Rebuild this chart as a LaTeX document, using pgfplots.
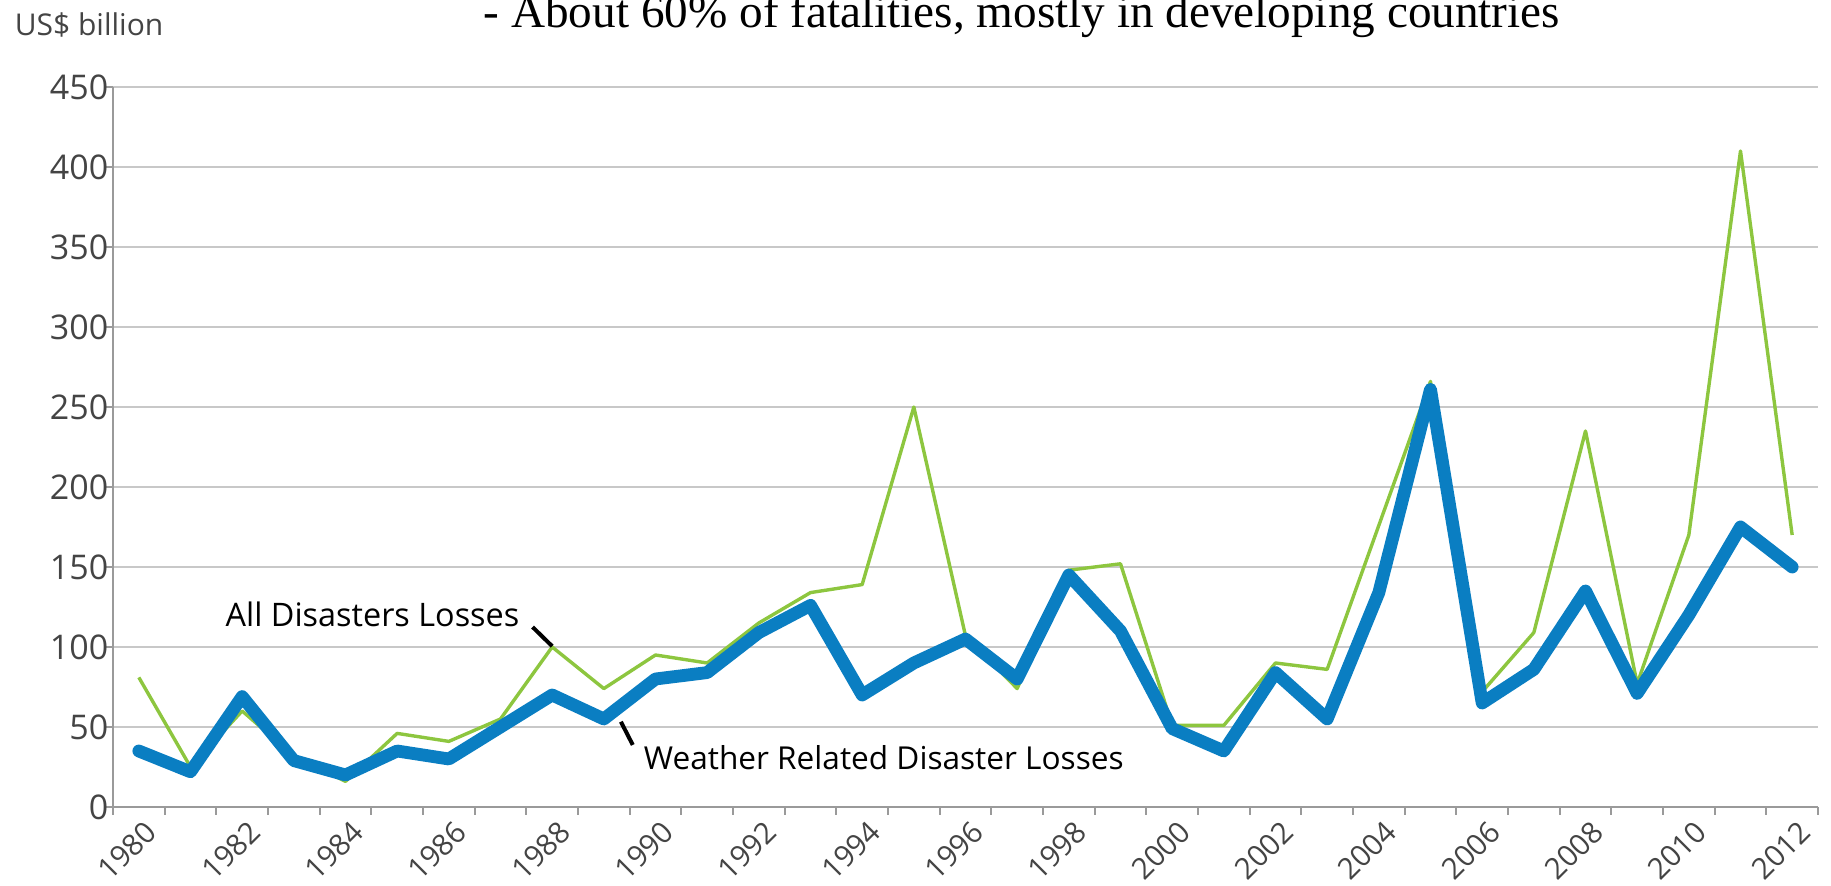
\documentclass[border=0pt]{standalone}
\usepackage{pgfplots}
\pgfplotsset{compat=1.18}
\usepackage{fontspec}
\setmainfont{Open Sans}
\newfontfamily\timesfont{Liberation Serif}

\definecolor{weatherblue}{HTML}{0A7EC2}
\definecolor{allgreen}{HTML}{8DC63F}
\definecolor{gridgray}{HTML}{C8C8C8}
\definecolor{axisgray}{HTML}{9A9A9A}
\definecolor{labelgray}{HTML}{444444}

% all disasters losses, US$ billion
\pgfplotstableread{
year value
1980 81
1981 25
1982 60
1983 32
1984 16
1985 46
1986 41
1987 55
1988 100
1989 74
1990 95
1991 90
1992 115
1993 134
1994 139
1995 250
1996 107
1997 74
1998 148
1999 152
2000 51
2001 51
2002 90
2003 86
2004 176
2005 266
2006 72
2007 109
2008 235
2009 77
2010 170
2011 410
2012 170
}\alldata

% weather related disaster losses, US$ billion
\pgfplotstableread{
year value
1980 35
1981 22
1982 69
1983 29
1984 20
1985 35
1986 30
1987 50
1988 70
1989 55
1990 80
1991 84
1992 109
1993 126
1994 70
1995 90
1996 105
1997 80
1998 145
1999 110
2000 49
2001 35
2002 84
2003 55
2004 134
2005 261
2006 65
2007 86
2008 135
2009 71
2010 120
2011 175
2012 150
}\weatherdata

\begin{document}
\begin{tikzpicture}
\begin{axis}[
  name=ax,
  scale only axis,
  width=426.25pt, height=180pt,
  xmin=1979.5, xmax=2012.5,
  ymin=0, ymax=450,
  axis x line=bottom, axis y line=left,
  axis line style={-, draw=axisgray, line width=0.5pt},
  tick align=outside,
  major tick length=2pt,
  minor tick length=2pt,
  tick style={draw=axisgray, line width=0.5pt},
  xtick={1980.5,1982.5,1984.5,1986.5,1988.5,1990.5,1992.5,1994.5,1996.5,1998.5,2000.5,2002.5,2004.5,2006.5,2008.5,2010.5,2012.5},
  xticklabels={1980,1982,1984,1986,1988,1990,1992,1994,1996,1998,2000,2002,2004,2006,2008,2010,2012},
  minor xtick={1979.5,1981.5,1983.5,1985.5,1987.5,1989.5,1991.5,1993.5,1995.5,1997.5,1999.5,2001.5,2003.5,2005.5,2007.5,2009.5,2011.5},
  ytick={0,50,...,450},
  ymajorgrids,
  grid style={draw=gridgray, line width=0.5pt},
  /pgf/number format/assume math mode=true,
  ticklabel style={text=labelgray},
  xticklabel style={xshift=-5.3pt, yshift=-0.7pt, rotate=45, anchor=north east, inner sep=0pt, font=\fontsize{7.4}{8}\selectfont},
  yticklabel style={xshift=1pt, inner sep=0pt, font=\fontsize{8.5}{9}\selectfont},
]
\addplot[allgreen, line width=0.85pt, line join=round] table[x=year, y=value] {\alldata};
\addplot[weatherblue, line width=3.2pt, line join=round, line cap=round] table[x=year, y=value] {\weatherdata};

\node[anchor=base east, inner sep=0pt, font=\fontsize{8.1}{9}\selectfont, text=black] at (axis cs:1987.38,112.5) {All Disasters Losses};
\draw[black, line width=1pt] (axis cs:1987.62,112.5) -- (axis cs:1988,100.5);
\draw[black, line width=1pt] (axis cs:1989.33,53.3) -- (axis cs:1989.56,38.8);
\node[anchor=base west, inner sep=0pt, font=\fontsize{7.9}{9}\selectfont, text=black] at (axis cs:1989.76,23.2) {Weather Related Disaster Losses};
\end{axis}

\node[anchor=base west, inner sep=0pt, font=\fontsize{7.5}{9}\selectfont, text=labelgray] at ([shift={(-24.75pt,12.75pt)}]ax.north west) {US\$ billion};
\node[anchor=base west, inner sep=0pt, font=\timesfont\fontsize{11.8}{13}\selectfont] at ([shift={(92.5pt,14.75pt)}]ax.north west) {- About 60\% of fatalities, mostly in developing countries};

\pgfresetboundingbox
\useasboundingbox ([shift={(-28.25pt,-19.75pt)}]ax.south west) rectangle ([shift={(3.25pt,21.75pt)}]ax.north east);
\end{tikzpicture}
\end{document}
